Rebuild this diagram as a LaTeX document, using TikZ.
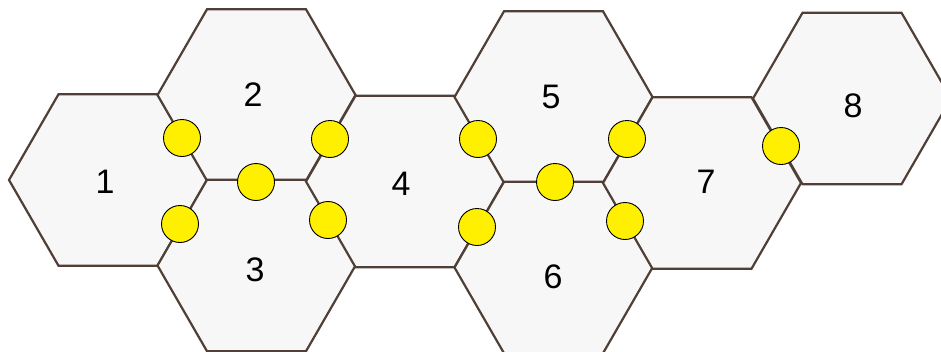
\documentclass[tikz,border=0pt]{standalone}
\usepackage{fontspec}
\setmainfont{Liberation Sans}
\usetikzlibrary{shapes.geometric}
\definecolor{hexfill}{HTML}{F7F7F7}
\definecolor{hexline}{HTML}{4F3F37}
\definecolor{dotyellow}{HTML}{FFF000}
\begin{document}
\begin{tikzpicture}[x=1pt,y=-1pt,
  hexcell/.style={regular polygon, regular polygon sides=6, minimum size=198pt,
    inner sep=0pt, outer sep=0pt, draw=hexline, fill=hexfill, line width=2.2pt},
  dot/.style={circle, minimum size=37pt, inner sep=0pt, draw=black, line width=0.9pt, fill=dotyellow},
  lab/.style={font=\fontsize{34}{34}\selectfont, inner sep=0pt}]
\useasboundingbox (0,0) rectangle (941,351);
\node[hexcell] (h1) at (108,180) {};
\node[hexcell] (h2) at (256.5,95) {};
\node[hexcell] (h3) at (256.5,265.5) {};
\node[hexcell] (h4) at (405,181.5) {};
\node[hexcell] (h5) at (553.5,97) {};
\node[hexcell] (h6) at (553.5,267.5) {};
\node[hexcell] (h7) at (702,183) {};
\node[hexcell] (h8) at (852,98.5) {};
\node[lab] (l1) at (105,182) {1};
\node[lab] (l2) at (253,95) {2};
\node[lab] (l3) at (255,270) {3};
\node[lab] (l4) at (401,184) {4};
\node[lab] (l5) at (551,97) {5};
\node[lab] (l6) at (553,277) {6};
\node[lab] (l7) at (706,182) {7};
\node[lab] (l8) at (853,106) {8};
\node[dot] (c12) at (182,138) {};
\node[dot] (c13) at (180,224) {};
\node[dot] (c23) at (256,182) {};
\node[dot] (c24) at (330,139) {};
\node[dot] (c34) at (328,220) {};
\node[dot] (c45) at (478,139) {};
\node[dot] (c46) at (477,227) {};
\node[dot] (c56) at (555,182) {};
\node[dot] (c57) at (627,139) {};
\node[dot] (c67) at (625,221) {};
\node[dot] (c78) at (781,146) {};
\end{tikzpicture}
\end{document}
